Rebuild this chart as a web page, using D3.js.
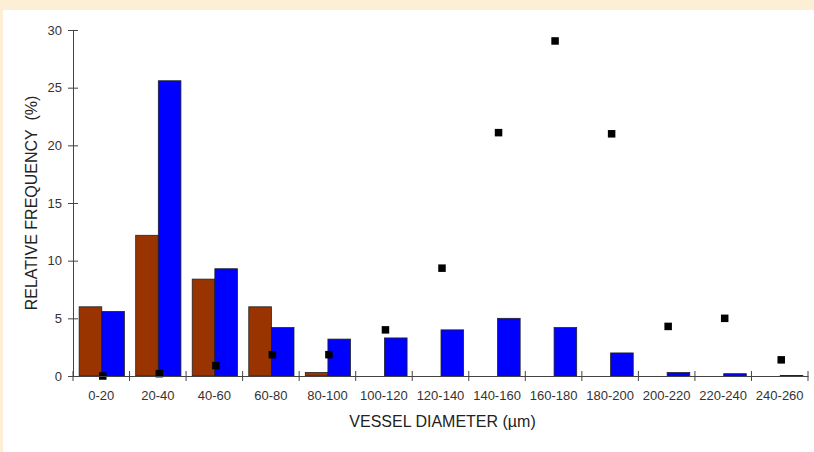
<!DOCTYPE html>
<html>
<head>
<meta charset="utf-8">
<script src="https://cdn.jsdelivr.net/npm/d3@7"></script>
<style>
  body { margin: 0; background: #fcefd6; }
  svg { display: block; }
</style>
</head>
<body>
<div id="chart_div"></div>
<script>
// Data
const categories = ["0-20", "20-40", "40-60", "60-80", "80-100", "100-120", "120-140",
  "140-160", "160-180", "180-200", "200-220", "220-240", "240-260"];
const brownValues = [6.0, 12.2, 8.4, 6.0, 0.3, 0, 0, 0, 0, 0, 0, 0, 0];
const blueValues = [5.6, 25.6, 9.3, 4.2, 3.2, 3.3, 4.0, 5.0, 4.2, 2.0, 0.3, 0.2, 0.05];
const squareValues = [0.0, 0.2, 0.9, 1.85, 1.85, 4.0, 9.35, 21.1, 29.05, 21.0, 4.3, 5.0, 1.4];
const yTicks = [0, 5, 10, 15, 20, 25, 30];

const width = 814, height = 452;
const marginLeft = 73, marginRight = 6, marginTop = 30, marginBottom = 76;
const fontFamily = "'Liberation Sans', Arial, sans-serif";

const svg = d3.select("#chart_div").append("svg")
  .attr("width", width)
  .attr("height", height)
  .style("font-family", fontFamily);

// beige page and white panel
svg.append("rect").attr("width", width).attr("height", height).attr("fill", "#fcefd6");
svg.append("rect").attr("x", 3).attr("y", 10).attr("width", width - 3).attr("height", height - 10)
  .attr("fill", "#ffffff");

const x = d3.scaleBand()
  .domain(categories)
  .range([marginLeft, width - marginRight]);

const inner = d3.scaleBand()
  .domain(["brown", "blue"])
  .range([0, x.bandwidth()])
  .paddingOuter(0.25);

const y = d3.scaleLinear()
  .domain([0, 30])
  .range([height - marginBottom, marginTop]);

const g = svg.append("g");

// bars
const series = [
  { key: "brown", values: brownValues, color: "#993300" },
  { key: "blue", values: blueValues, color: "#0000ff" }
];
series.forEach(s => {
  g.append("g")
    .selectAll("rect")
    .data(s.values.map((v, i) => ({ cat: categories[i], v })).filter(d => d.v > 0))
    .join("rect")
    .attr("x", d => x(d.cat) + inner(s.key) + 0.5)
    .attr("width", inner.bandwidth())
    .attr("y", d => y(d.v))
    .attr("height", d => y(0) - y(d.v))
    .attr("fill", s.color)
    .attr("stroke", "#222")
    .attr("stroke-width", 0.8);
});

// x axis
const xAxis = svg.append("g")
  .attr("transform", `translate(0,${y(0)})`)
  .call(d3.axisBottom(x).tickSize(0).tickPadding(15));
xAxis.select(".domain").attr("stroke", "#444");
xAxis.selectAll("text").attr("font-size", 13).attr("fill", "#333")
  .attr("font-family", fontFamily);
// category boundary ticks
xAxis.selectAll(".sep")
  .data(categories.map(c => x(c)).concat([x.range()[1]]))
  .join("line")
  .attr("class", "sep")
  .attr("x1", d => d).attr("x2", d => d)
  .attr("y1", -5).attr("y2", 5)
  .attr("stroke", "#444");

// y axis
const yAxis = svg.append("g")
  .attr("transform", `translate(${marginLeft},0)`)
  .call(d3.axisLeft(y).tickValues(yTicks).tickSize(5).tickPadding(6));
yAxis.select(".domain").attr("stroke", "#444");
yAxis.selectAll(".tick line").attr("x2", 5).attr("x1", -5).attr("stroke", "#444");
yAxis.selectAll("text").attr("font-size", 13).attr("fill", "#333")
  .attr("font-family", fontFamily);

// squares
const sq = 7.5;
g.append("g")
  .selectAll("rect")
  .data(squareValues.map((v, i) => ({ cat: categories[i], v })))
  .join("rect")
  .attr("x", d => x(d.cat) + x.bandwidth() / 2 + 1.5 - sq / 2)
  .attr("y", d => y(d.v) - sq / 2)
  .attr("width", sq)
  .attr("height", sq)
  .attr("fill", "#000");

// axis titles
svg.append("text")
  .attr("x", (marginLeft + width - marginRight) / 2 + 2)
  .attr("y", 427)
  .attr("text-anchor", "middle")
  .attr("font-size", 16)
  .attr("fill", "#222")
  .text("VESSEL DIAMETER (µm)");

svg.append("text")
  .attr("transform", `translate(37,${(y(0) + y(30)) / 2}) rotate(-90)`)
  .attr("text-anchor", "middle")
  .attr("font-size", 16)
  .attr("fill", "#222")
  .attr("xml:space", "preserve")
  .style("white-space", "pre")
  .text("RELATIVE FREQUENCY  (%)");
</script>
</body>
</html>
